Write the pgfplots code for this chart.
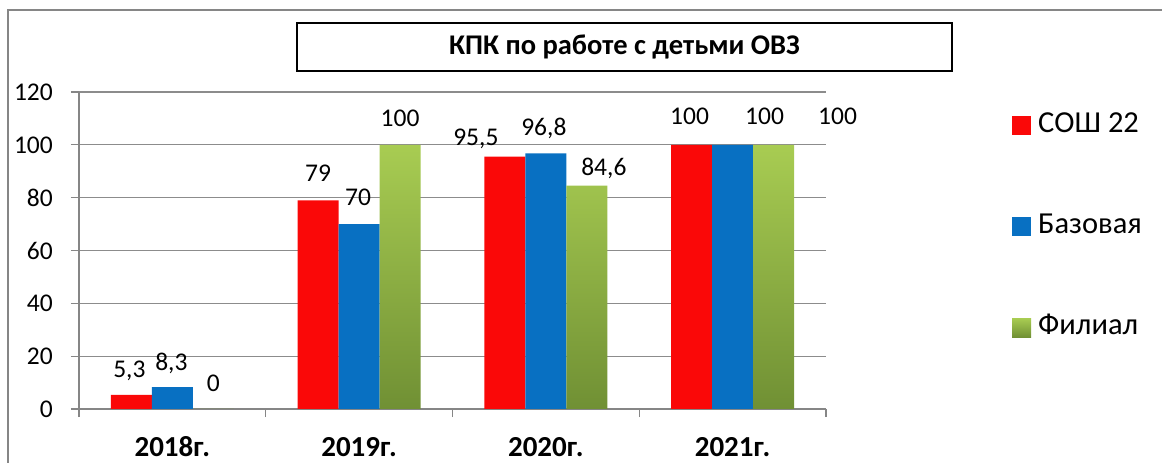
\documentclass[border=0pt]{standalone}
\usepackage{fontspec}
\setmainfont{Carlito}
\usepackage{pgfplots}
\usepackage{pgfplotstable}
\pgfplotsset{compat=1.18}
\definecolor{framegray}{RGB}{134,134,134}
\definecolor{gridgray}{RGB}{140,140,140}
\definecolor{barred}{RGB}{250,8,8}
\definecolor{barblue}{RGB}{8,112,194}
\definecolor{greentop}{RGB}{168,204,82}
\definecolor{greenbot}{RGB}{112,144,52}

\pgfplotstableread{
x y dx dy
0 5.3 -2 17
1 79 0 19
2 95.5 -29 11
3 100 -2 20
}\tabA
\pgfplotstableread{
x y dx dy
0 8.3 -1 17
1 70 -1 19
2 96.8 -2 18
3 100 32 20
}\tabB
\pgfplotstableread{
x y dx dy
0 0 0 17
1 100 0 18
2 84.6 17 10.5
3 100 64 20
}\tabC

\begin{document}
\begin{tikzpicture}[x=1pt,y=1pt]
\useasboundingbox (0,0) rectangle (1162,463);
\draw[framegray, line width=1.4pt] (8,-2) -- (8,453) -- (1165,453);
\draw[black, line width=1.3pt] (297,392) rectangle (952,440);
\node[font=\fontsize{28.5}{32}\selectfont\bfseries] at (624.5,416) {КПК по работе с детьми ОВЗ};
\begin{axis}[
  at={(79pt,54pt)}, anchor=south west,
  scale only axis, width=747pt, height=317pt,
  clip=false,
  xmin=-0.5, xmax=3.5, ymin=0, ymax=120,
  ytick={0,20,...,120},
  xtick={-0.5,0.5,1.5,2.5,3.5}, xticklabels={},
  extra x ticks={0,1,2,3},
  extra x tick labels={2018г.,2019г.,2020г.,2021г.},
  extra x tick style={major tick length=0pt, grid=none},
  major tick length=8pt, tick align=outside,
  tick style={framegray, line width=1.2pt},
  axis x line*=bottom, axis y line*=left,
  axis line style={framegray, line width=1.2pt, -},
  ymajorgrids, grid style={gridgray, line width=1.2pt},
  /pgf/number format/assume math mode=true,
  yticklabel style={font=\fontsize{25.5}{30}\selectfont, anchor=east, inner sep=0pt, xshift=-18pt},
  xticklabel style={font=\fontsize{29}{34}\selectfont\bfseries, anchor=base, inner sep=0pt, yshift=-48pt},
  ybar=0pt, bar width=41pt,
  nodes near coords={\pgfmathprintnumber[use comma]{\pgfplotspointmeta}},
  visualization depends on={\thisrow{dx}\as\dx},
  visualization depends on={\thisrow{dy}\as\dy},
  every node near coord/.append style={font=\fontsize{25.5}{30}\selectfont, anchor=base, inner sep=0pt, xshift=\dx, yshift=\dy, black},
  legend image code/.code={\path[#1,draw=none] (0pt,-9.5pt) rectangle (19pt,9.5pt);},
  legend style={at={(1.2490,0.935)}, anchor=north west, draw=none, fill=none,
    inner sep=0pt, row sep=75pt, column sep=7pt,
    font=\fontsize{30.5}{36}\selectfont,
    nodes={inner sep=0pt, anchor=west, text height=20pt, text depth=6pt}},
  legend cell align=left,
]
\addplot[fill=barred, draw=none] table[x=x,y=y] {\tabA};
\addlegendentry{СОШ 22}
\addplot[fill=barblue, draw=none] table[x=x,y=y] {\tabB};
\addlegendentry{Базовая}
\addplot[top color=greentop, bottom color=greenbot, draw=none] table[x=x,y=y] {\tabC};
\addlegendentry{Филиал}
\end{axis}
\end{tikzpicture}
\end{document}
